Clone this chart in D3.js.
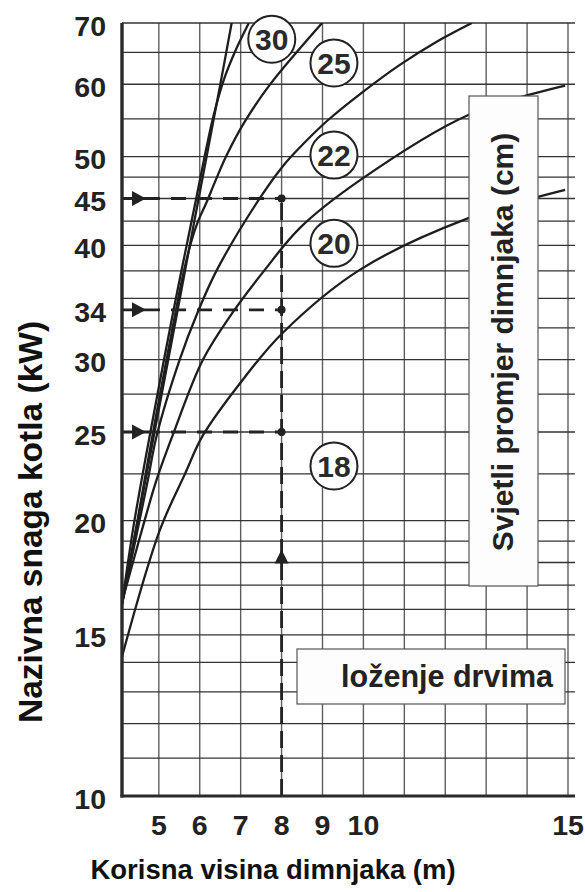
<!DOCTYPE html>
<html><head><meta charset="utf-8">
<script src="https://cdn.jsdelivr.net/npm/d3@7"></script>
<style>html,body{margin:0;padding:0;background:#fff}svg{display:block}</style>
</head><body>
<svg id="chart" width="585" height="892"></svg>
<script>
// ---------- data ----------
const xGridValues = [5,6,7,8,9,10,11,12,13,14,15];
const xTickLabels = [5,6,7,8,9,10,15];
const yGridValues = [11,12,13,14,15,16,17,18,19,20,22.5,25,27.5,30,32.5,35,37.5,40,42.5,45,47.5,50,55,60,65,70];
const yTickLabels = [10,15,20,25,30,34,40,45,50,60,70];

// [height m, power kW]
const lineLimit = [[4.10,16.2],[4.88,24.8],[5.45,33.8],[5.96,44.7],[6.50,59.9],[6.78,70]];
const curve30 = [[4.10,16.2],[4.38,19.7],[4.78,24.8],[5.35,33.8],[5.90,44.7],[6.15,50.8],[6.34,55.5],[6.59,60.7],[6.88,65.4],[7.20,70]];
const curve25 = [[4.10,16.2],[4.46,19.8],[4.76,23.6],[5.05,27.8],[5.37,33.1],[5.59,37.1],[5.78,40.2],[5.95,42.4],[6.17,44.6],[6.37,46.9],[6.66,50.2],[7.10,54.6],[7.71,59.9],[8.99,70]];
const curve22 = [[4.10,16.2],[4.71,21.9],[4.95,24.8],[5.51,30.0],[5.95,33.8],[6.42,37.6],[7.42,44.7],[8.06,49.0],[8.45,51.2],[9.13,54.8],[9.91,58.5],[10.89,63.0],[11.77,66.7],[12.65,70]];
const curve20 = [[4.10,16.3],[4.61,19.7],[4.95,22.2],[5.34,24.8],[6.08,30.0],[6.81,33.8],[7.59,37.6],[8.45,41.8],[9.91,47.1],[12.55,55.5],[14.93,59.8]];
const curve18 = [[4.10,14.2],[5.02,19.5],[5.64,22.5],[6.08,24.8],[7.10,28.7],[8.03,32.1],[9.91,37.6],[12.55,42.8],[14.93,46.0]];
const curves = [lineLimit, curve30, curve25, curve22, curve20, curve18];

const diameterLabels = ["30","25","22","20","18"];
const diameterLabelAt = [[7.76,67.2],[9.28,63.3],[9.28,50.2],[9.28,40.2],[9.28,22.95]];

const examplePowers = [45,34,25];
const exampleHeight = 8;
const exampleArrowPower = 18.6;

const xTitle = "Korisna visina dimnjaka (m)";
const yTitle = "Nazivna snaga kotla (kW)";
const diameterTitle = "Svjetli promjer dimnjaka (cm)";
const fuelTitle = "loženje drvima";

// ---------- drawing ----------
const svg = d3.select("#chart");
const FONT = "'Liberation Sans', Arial, Helvetica, sans-serif";
const INK = "#222";

const x = d3.scaleLinear().domain([4.1, 15]).range([122, 568]);
const y = d3.scaleLog().domain([10, 70]).range([796, 23]);
const x0 = x.range()[0], xEnd = 575;

svg.append("rect").attr("width",585).attr("height",892).attr("fill","#fff");

// grid
const grid = svg.append("g");
grid.selectAll("line.v").data(xGridValues).join("line")
  .attr("x1", d => x(d)).attr("x2", d => x(d))
  .attr("y1", y(70)).attr("y2", y(10))
  .attr("stroke", "#5e5e5e").attr("stroke-width", 1.4);
grid.selectAll("line.h").data(yGridValues).join("line")
  .attr("x1", x0).attr("x2", xEnd)
  .attr("y1", d => y(d)).attr("y2", d => y(d))
  .attr("stroke", "#333").attr("stroke-width", 1.3);

// curves
const lineGen = d3.line().x(d => x(d[0])).y(d => y(d[1])).curve(d3.curveCatmullRom.alpha(0.5));
svg.append("defs").append("clipPath").attr("id","plotclip")
  .append("rect").attr("x", x0).attr("y", y(70)).attr("width", xEnd - x0).attr("height", y(10) - y(70));
svg.append("g").attr("clip-path","url(#plotclip)")
  .selectAll("path").data(curves).join("path")
  .attr("d", lineGen).attr("fill","none").attr("stroke","#1e1e1e").attr("stroke-width",2.3);

// example dashed lines
const ex = svg.append("g");
ex.selectAll("line.hd").data(examplePowers).join("line")
  .attr("x1", x0).attr("x2", x(exampleHeight))
  .attr("y1", d => y(d)).attr("y2", d => y(d))
  .attr("stroke", INK).attr("stroke-width", 2.8)
  .attr("stroke-dasharray", "38 11 15 11 15 11 15 11 15 11 15 11");
ex.append("line")
  .attr("x1", x(exampleHeight)).attr("x2", x(exampleHeight))
  .attr("y1", y(10)).attr("y2", y(d3.max(examplePowers)))
  .attr("stroke", INK).attr("stroke-width", 2.8)
  .attr("stroke-dasharray", "17 7");
ex.selectAll("path.ah").data(examplePowers).join("path")
  .attr("d", d => { const tx = x0 + 24, ty = y(d); return `M${tx},${ty} L${tx-14},${ty-7.5} L${tx-14},${ty+7.5} Z`; })
  .attr("fill", INK);
ex.append("path")
  .attr("d", () => { const tx = x(exampleHeight), ty = y(exampleArrowPower); return `M${tx},${ty} L${tx-7},${ty+14} L${tx+7},${ty+14} Z`; })
  .attr("fill", INK);
ex.selectAll("circle").data(examplePowers).join("circle")
  .attr("cx", x(exampleHeight)).attr("cy", d => y(d)).attr("r", 4).attr("fill", INK);

// boxes
const b1 = svg.append("g");
b1.append("rect").attr("x",469).attr("y",96).attr("width",69).attr("height",490)
  .attr("fill","#fdfdfd").attr("stroke","#555").attr("stroke-width",1.2);
b1.append("text").attr("transform","translate(513,342) rotate(-90)")
  .attr("text-anchor","middle").attr("font-family",FONT).attr("font-weight","bold")
  .attr("font-size",30).attr("fill",INK).text(diameterTitle);

const b2 = svg.append("g");
b2.append("rect").attr("x",297).attr("y",649).attr("width",268).attr("height",55)
  .attr("fill","#fdfdfd").attr("stroke","#555").attr("stroke-width",1.2);
b2.append("text").attr("x",553).attr("y",687).attr("text-anchor","end")
  .attr("font-family",FONT).attr("font-weight","bold").attr("font-size",30.5)
  .attr("fill",INK).text(fuelTitle);

// diameter labels
const lg = svg.append("g").selectAll("g").data(diameterLabels).join("g")
  .attr("transform", (d,i) => `translate(${x(diameterLabelAt[i][0])},${y(diameterLabelAt[i][1])})`);
lg.append("circle").attr("r",23.5).attr("fill","#fff").attr("stroke",INK).attr("stroke-width",2);
lg.append("text").attr("text-anchor","middle").attr("dy","0.37em")
  .attr("font-family",FONT).attr("font-weight","bold").attr("font-size",30)
  .attr("fill","#2a2a2a").text(d => d);

// axes (thick)
svg.append("line").attr("x1",x0).attr("x2",x0).attr("y1",y(70)).attr("y2",y(10)+1.5)
  .attr("stroke","#2a2a2a").attr("stroke-width",3.4);
svg.append("line").attr("x1",x0-1.5).attr("x2",xEnd).attr("y1",y(10)).attr("y2",y(10))
  .attr("stroke","#2a2a2a").attr("stroke-width",3);

// tick labels
svg.append("g").selectAll("text").data(yTickLabels).join("text")
  .attr("x",106).attr("y",d => y(d)).attr("dy","0.44em").attr("text-anchor","end")
  .attr("font-family",FONT).attr("font-weight","bold").attr("font-size",28.5)
  .attr("fill",INK).text(d => d);
svg.append("g").selectAll("text").data(xTickLabels).join("text")
  .attr("x",d => x(d)).attr("y",835).attr("text-anchor","middle")
  .attr("font-family",FONT).attr("font-weight","bold").attr("font-size",28.5)
  .attr("fill",INK).text(d => d);

// titles
svg.append("text").attr("x",273).attr("y",879).attr("text-anchor","middle")
  .attr("font-family",FONT).attr("font-weight","bold").attr("font-size",27.5)
  .attr("fill","#111").text(xTitle);
svg.append("text").attr("transform","translate(42,522) rotate(-90)").attr("text-anchor","middle")
  .attr("font-family",FONT).attr("font-weight","bold").attr("font-size",33.5)
  .attr("fill","#111").text(yTitle);
</script>
</body></html>
